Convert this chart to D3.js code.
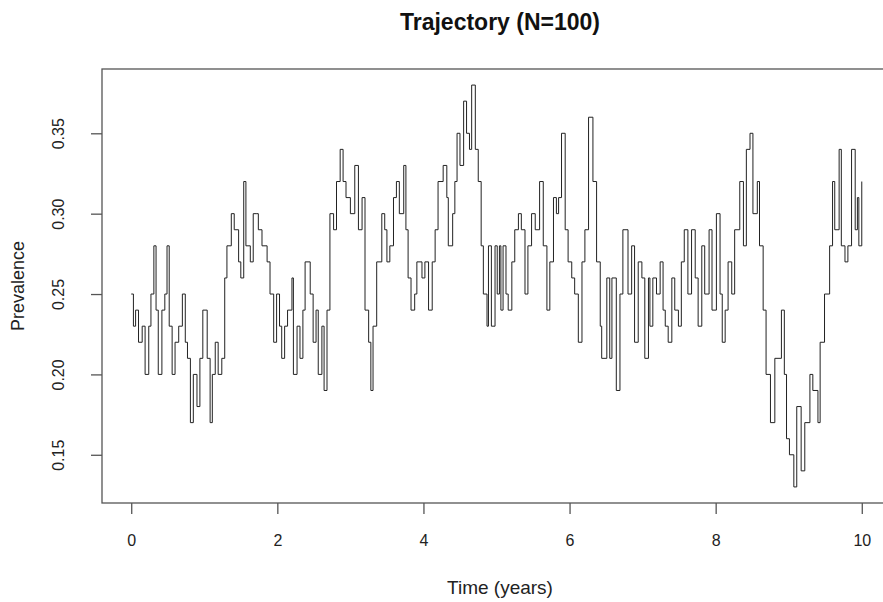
<!DOCTYPE HTML>
<html>
<head>
    <title>Trajectory (N=100)</title>
    <style>
        body {
            margin: 0;
            background: #fff;
        }
        text {
            font-family: "Liberation Sans", Arial, sans-serif;
            fill: #222;
        }
    </style>
    <script type="text/javascript" src="https://d3js.org/d3.v7.min.js"></script>
</head>
<body>
    <div id="chart"></div>
    <script>
        // trajectory (time in years, prevalence)
        var times = [
            0.00, 0.03, 0.06, 0.10, 0.15, 0.19, 0.24, 0.27, 0.31, 0.34, 0.37, 0.42, 0.46, 0.49,
            0.52, 0.56, 0.60, 0.65, 0.70, 0.74, 0.77, 0.81, 0.85, 0.90, 0.94, 0.98, 1.04, 1.08,
            1.11, 1.15, 1.19, 1.24, 1.28, 1.31, 1.37, 1.41, 1.47, 1.50, 1.54, 1.57, 1.63, 1.67,
            1.71, 1.74, 1.79, 1.86, 1.90, 1.95, 1.99, 2.03, 2.06, 2.10, 2.14, 2.20, 2.22, 2.27,
            2.31, 2.35, 2.38, 2.45, 2.49, 2.53, 2.56, 2.61, 2.64, 2.68, 2.72, 2.77, 2.81, 2.86,
            2.90, 2.94, 3.00, 3.06, 3.11, 3.16, 3.20, 3.25, 3.28, 3.31, 3.36,
            3.43, 3.47, 3.50, 3.54, 3.59, 3.63, 3.67, 3.73, 3.76, 3.79, 3.83, 3.88, 3.91, 3.98,
            4.02, 4.07, 4.12, 4.16, 4.20, 4.27, 4.32, 4.34, 4.40, 4.43, 4.46, 4.50, 4.55, 4.59,
            4.63, 4.66, 4.71, 4.75, 4.79, 4.82, 4.87, 4.89, 4.93, 4.98, 5.01,
            5.04, 5.06, 5.09, 5.13, 5.16, 5.21, 5.25, 5.30, 5.34, 5.39, 5.43, 5.48, 5.53, 5.59,
            5.64, 5.69, 5.73, 5.78, 5.82, 5.85, 5.89, 5.94, 5.98, 6.03, 6.07, 6.12, 6.17, 6.21,
            6.26, 6.32, 6.37, 6.42, 6.44, 6.51, 6.55, 6.58, 6.64, 6.69, 6.73, 6.80,
            6.85, 6.89, 6.94, 6.99, 7.03, 7.08, 7.10, 7.14, 7.19, 7.24, 7.28, 7.31, 7.35, 7.40,
            7.44, 7.49, 7.53, 7.57, 7.62, 7.67, 7.72, 7.76, 7.81, 7.85, 7.91, 7.95, 8.01, 8.06,
            8.09, 8.13, 8.17, 8.22, 8.26, 8.33, 8.38, 8.42, 8.47, 8.51,
            8.57, 8.60, 8.65, 8.69, 8.75, 8.81, 8.90, 8.94, 8.97, 9.01, 9.07, 9.11, 9.17, 9.22,
            9.29, 9.33, 9.40, 9.43, 9.49, 9.56, 9.60, 9.63, 9.69, 9.72, 9.77, 9.81, 9.86, 9.91,
            9.94, 9.96, 10.00
        ];
        var prevalence = [
            0.25, 0.23, 0.24, 0.22, 0.23, 0.20, 0.23, 0.25, 0.28, 0.24, 0.20, 0.24, 0.25, 0.28,
            0.23, 0.20, 0.22, 0.23, 0.25, 0.22, 0.21, 0.17, 0.20, 0.18, 0.21, 0.24, 0.21, 0.17,
            0.20, 0.22, 0.20, 0.21, 0.26, 0.28, 0.30, 0.29, 0.27, 0.26, 0.32, 0.28, 0.27, 0.30,
            0.30, 0.29, 0.28, 0.27, 0.25, 0.22, 0.25, 0.23, 0.21, 0.23, 0.24, 0.26, 0.20, 0.23,
            0.21, 0.24, 0.27, 0.25, 0.22, 0.24, 0.20, 0.23, 0.19, 0.24, 0.30, 0.29, 0.32, 0.34,
            0.32, 0.31, 0.30, 0.33, 0.29, 0.31, 0.24, 0.22, 0.19, 0.23, 0.27,
            0.30, 0.29, 0.27, 0.28, 0.31, 0.32, 0.30, 0.33, 0.29, 0.26, 0.24, 0.25, 0.27, 0.26,
            0.27, 0.24, 0.27, 0.29, 0.32, 0.33, 0.31, 0.28, 0.30, 0.32, 0.35, 0.33, 0.37, 0.35,
            0.34, 0.38, 0.34, 0.32, 0.28, 0.25, 0.23, 0.28, 0.23, 0.28, 0.25,
            0.28, 0.24, 0.28, 0.25, 0.24, 0.27, 0.29, 0.30, 0.29, 0.25, 0.28, 0.30, 0.29, 0.32,
            0.28, 0.24, 0.27, 0.31, 0.30, 0.31, 0.35, 0.29, 0.27, 0.26, 0.25, 0.22, 0.27, 0.29,
            0.36, 0.32, 0.27, 0.23, 0.21, 0.26, 0.21, 0.26, 0.19, 0.25, 0.29, 0.25,
            0.28, 0.22, 0.27, 0.26, 0.21, 0.26, 0.23, 0.26, 0.25, 0.27, 0.24, 0.23, 0.22, 0.26,
            0.24, 0.23, 0.27, 0.29, 0.25, 0.29, 0.26, 0.23, 0.28, 0.25, 0.29, 0.24, 0.30, 0.25,
            0.22, 0.24, 0.27, 0.25, 0.29, 0.32, 0.28, 0.34, 0.35, 0.30,
            0.32, 0.28, 0.24, 0.20, 0.17, 0.21, 0.24, 0.20, 0.16, 0.15, 0.13, 0.18, 0.14, 0.17,
            0.20, 0.19, 0.17, 0.22, 0.25, 0.28, 0.32, 0.29, 0.34, 0.28, 0.27, 0.28, 0.34, 0.29,
            0.31, 0.28, 0.32
        ];
        var xTicks = [0, 2, 4, 6, 8, 10];
        var yTicks = [0.15, 0.20, 0.25, 0.30, 0.35];

        var width = 883;
        var height = 602;
        var plot = {left: 102, top: 69, right: 891, bottom: 503};

        var data = times.map(function (t, i) {
            return {t: t, v: prevalence[i]};
        });

        var xScale = d3.scaleLinear()
            .domain([-0.4, 10.4])
            .range([plot.left, plot.right]);

        var yScale = d3.scaleLinear()
            .domain([0.12, 0.39])
            .range([plot.bottom, plot.top]);

        var svg = d3.select("#chart")
            .append("svg")
            .attr("width", width)
            .attr("height", height);

        // trajectory as a step function
        var line = d3.line()
            .x(function (d) { return xScale(d.t); })
            .y(function (d) { return yScale(d.v); })
            .curve(d3.curveStepAfter);

        svg.append("path")
            .datum(data)
            .attr("d", line)
            .attr("fill", "none")
            .attr("stroke", "#222")
            .attr("stroke-width", 1);

        // box round the plot region
        svg.append("rect")
            .attr("x", plot.left)
            .attr("y", plot.top)
            .attr("width", plot.right - plot.left)
            .attr("height", plot.bottom - plot.top)
            .attr("fill", "none")
            .attr("stroke", "#555")
            .attr("stroke-width", 1.3);

        var xAxis = d3.axisBottom(xScale)
            .tickValues(xTicks)
            .tickSize(11)
            .tickSizeOuter(0)
            .tickPadding(21)
            .tickFormat(d3.format("d"));

        var gX = svg.append("g")
            .attr("transform", "translate(0," + plot.bottom + ")")
            .call(xAxis);
        gX.select(".domain").remove();
        gX.selectAll("line").attr("stroke", "#555").attr("stroke-width", 1.3);
        gX.selectAll("text")
            .attr("font-size", 16)
            .attr("fill", "#222");

        var yAxis = d3.axisLeft(yScale)
            .tickValues(yTicks)
            .tickSize(11)
            .tickSizeOuter(0)
            .tickFormat(d3.format(".2f"));

        var gY = svg.append("g")
            .attr("transform", "translate(" + plot.left + ",0)")
            .call(yAxis);
        gY.select(".domain").remove();
        gY.selectAll("line").attr("stroke", "#555").attr("stroke-width", 1.3);
        gY.selectAll("text")
            .attr("font-size", 16)
            .attr("fill", "#222")
            .attr("text-anchor", "middle")
            .attr("transform", "rotate(-90)")
            .attr("x", 0)
            .attr("y", -44)
            .attr("dy", "0.35em");

        // title and axis labels
        svg.append("text")
            .attr("x", 500)
            .attr("y", 22)
            .attr("dy", "0.35em")
            .attr("text-anchor", "middle")
            .attr("font-size", 23)
            .attr("font-weight", "bold")
            .style("fill", "#111")
            .text("Trajectory (N=100)");

        svg.append("text")
            .attr("x", 500)
            .attr("y", 587)
            .attr("dy", "0.35em")
            .attr("text-anchor", "middle")
            .attr("font-size", 19)
            .text("Time (years)");

        svg.append("text")
            .attr("transform", "translate(18," + ((plot.top + plot.bottom) / 2) + ") rotate(-90)")
            .attr("dy", "0.35em")
            .attr("text-anchor", "middle")
            .attr("font-size", 18)
            .text("Prevalence");
    </script>
</body>
</html>
